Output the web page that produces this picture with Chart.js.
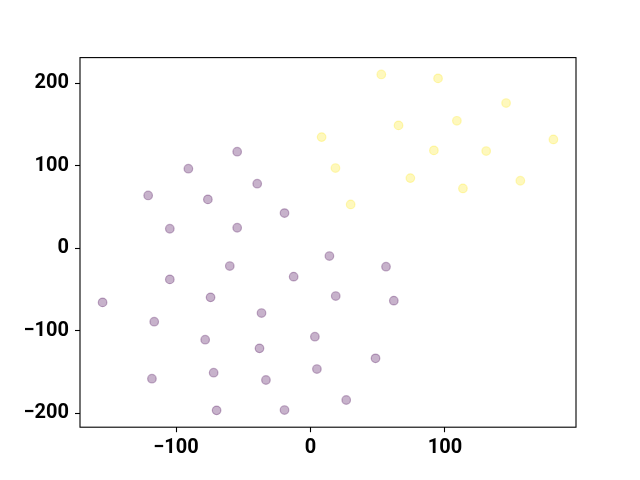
<!DOCTYPE html>
<html>
<head>
<meta charset="utf-8">
<script src="https://cdn.jsdelivr.net/npm/chart.js@4/dist/chart.umd.min.js"></script>
<style>
html,body{margin:0;padding:0;background:#fff;}
#wrap{width:640px;height:480px;position:relative;}
</style>
</head>
<body>
<div id="wrap"><canvas id="c" width="640" height="480"></canvas></div>
<script>
const groupAX = [-54.5,-90.8,-39.6,-120.7,-76.3,-19.3,-104.6,-54.5,14.1,-60.0,56.2,-12.5,-104.6,18.8,-74.3,62.0,-154.6,-36.4,-116.2,3.3,-78.3,-37.9,48.4,4.8,-72.0,-117.9,-33.1,26.6,-69.8,-19.3];
const groupAY = [116.8,96.2,78.0,63.8,59.0,42.4,23.4,24.6,-9.7,-21.8,-22.6,-34.7,-38.0,-58.2,-59.8,-63.8,-65.9,-78.8,-89.3,-107.5,-111.1,-121.6,-133.7,-146.7,-151.1,-158.4,-160.0,-184.2,-196.8,-196.4];
const groupBX = [52.7,94.9,145.5,108.9,65.5,8.3,180.7,91.8,130.7,18.6,74.3,156.1,113.4,29.9];
const groupBY = [210.5,205.7,175.8,154.3,148.7,134.5,131.7,118.4,117.6,97.0,84.8,81.6,72.3,52.9];
const xTicks = [-100, 0, 100];
const yTicks = [-200, -100, 0, 100, 200];
const xLimits = [-171.4, 197.5];
const yLimits = [-217.2, 230.9];

function pts(xs, ys){ return xs.map((x,i)=>({x:x, y:ys[i]})); }
const fmt = v => (v < 0 ? '\u2212' + Math.abs(v) : String(v));

const frame = {
  id:'frame',
  afterDraw(chart){
    const a = chart.chartArea, ctx = chart.ctx;
    ctx.save();
    ctx.strokeStyle = '#000';
    ctx.lineWidth = 1.1;
    ctx.strokeRect(a.left, a.top, a.right - a.left, a.bottom - a.top);
    ctx.restore();
  }
};

new Chart(document.getElementById('c'), {
  type:'scatter',
  data:{
    datasets:[
      {data:pts(groupAX, groupAY), backgroundColor:'rgba(68,1,84,0.3)', borderColor:'rgba(68,1,84,0.3)', borderWidth:1.2, pointRadius:4.3},
      {data:pts(groupBX, groupBY), backgroundColor:'rgba(253,231,37,0.3)', borderColor:'rgba(253,231,37,0.3)', borderWidth:1.2, pointRadius:4.3}
    ]
  },
  options:{
    responsive:false,
    animation:false,
    layout:{padding:{top:57.6, right:64, left:0, bottom:0}},
    plugins:{legend:{display:false}, tooltip:{enabled:false}},
    scales:{
      x:{
        type:'linear', min:xLimits[0], max:xLimits[1],
        afterBuildTicks: s => { s.ticks = xTicks.map(v=>({value:v})); },
        afterFit: s => { s.height = 480 - 427.2; },
        grid:{display:true, drawOnChartArea:false, drawTicks:true, tickLength:5, color:'#000', tickWidth:1.1},
        border:{display:false},
        ticks:{color:'#000', padding:4, maxRotation:0, font:{family:'Roboto', size:20, weight:'bold'}, callback:v=>fmt(v)}
      },
      y:{
        type:'linear', min:yLimits[0], max:yLimits[1],
        afterBuildTicks: s => { s.ticks = yTicks.map(v=>({value:v})); },
        afterFit: s => { s.width = 80; },
        grid:{display:true, drawOnChartArea:false, drawTicks:true, tickLength:5, color:'#000', tickWidth:1.1},
        border:{display:false},
        ticks:{color:'#000', padding:6, font:{family:'Roboto', size:20, weight:'bold'}, callback:v=>fmt(v)}
      }
    }
  },
  plugins:[frame]
});
</script>
</body>
</html>
